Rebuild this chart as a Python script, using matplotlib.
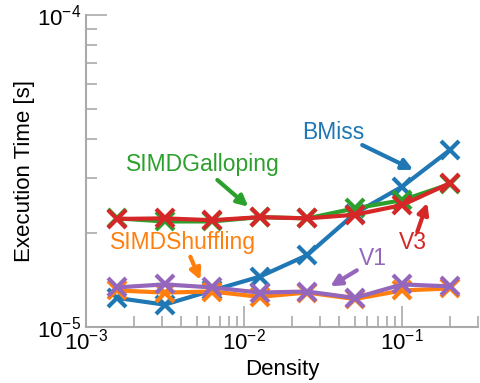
import matplotlib
matplotlib.use("Agg")
import matplotlib.pyplot as plt

density = [0.0015625, 0.003125, 0.00625, 0.0125, 0.025, 0.05, 0.1, 0.2]

bmiss = [1.24e-5, 1.18e-5, 1.31e-5, 1.45e-5, 1.70e-5, 2.31e-5, 2.82e-5, 3.69e-5]
simd_galloping = [2.23e-5, 2.18e-5, 2.18e-5, 2.25e-5, 2.23e-5, 2.40e-5, 2.55e-5, 2.87e-5]
v3 = [2.22e-5, 2.23e-5, 2.20e-5, 2.25e-5, 2.23e-5, 2.29e-5, 2.46e-5, 2.89e-5]
simd_shuffling = [1.31e-5, 1.29e-5, 1.30e-5, 1.25e-5, 1.29e-5, 1.23e-5, 1.31e-5, 1.33e-5]
v1 = [1.34e-5, 1.37e-5, 1.34e-5, 1.29e-5, 1.30e-5, 1.24e-5, 1.37e-5, 1.35e-5]

plt.rcParams["font.family"] = ["Liberation Sans", "DejaVu Sans"]
plt.rcParams["mathtext.fontset"] = "cm"

fig = plt.figure(figsize=(4.8, 3.83), dpi=100)
ax = fig.add_axes([0.18, 0.146, 0.815, 0.815])

series = [
    ("BMiss", bmiss, "#1f77b4"),
    ("SIMDGalloping", simd_galloping, "#2ca02c"),
    ("V3", v3, "#d62728"),
    ("SIMDShuffling", simd_shuffling, "#ff7f0e"),
    ("V1", v1, "#9467bd"),
]
for name, vals, col in series:
    ax.plot(density, vals, color=col, lw=3, marker="x", ms=13, mew=3)

ax.set_xscale("log")
ax.set_yscale("log")
ax.set_xlim(1e-3, 0.3)
ax.set_ylim(1e-5, 1e-4)

for side in ["top", "right"]:
    ax.spines[side].set_visible(False)
for side in ["left", "bottom"]:
    ax.spines[side].set_color("#aaaaaa")
    ax.spines[side].set_linewidth(1.5)
ax.tick_params(which="both", direction="in", colors="#aaaaaa", labelcolor="black", labelsize=16, width=1.2)
ax.tick_params(which="major", length=15)
ax.tick_params(which="minor", length=8)
ax.tick_params(axis="x", which="both", pad=1)

ax.set_xlabel("Density", fontsize=16, labelpad=3)
ax.set_ylabel("Execution Time [s]", fontsize=16, labelpad=2)

# label text, text position, arrow tail, arrow head
labels = [
    ("BMiss", "#1f77b4", (0.0366, 4.19e-5), (0.0558, 3.83e-5), (0.1175, 3.19e-5)),
    ("SIMDGalloping", "#2ca02c", (0.0055, 3.31e-5), (0.00675, 2.96e-5), (0.0106, 2.43e-5)),
    ("SIMDShuffling", "#ff7f0e", (0.00411, 1.86e-5), (0.00455, 1.68e-5), (0.00527, 1.415e-5)),
    ("V1", "#9467bd", (0.0655, 1.66e-5), (0.0516, 1.52e-5), (0.035, 1.35e-5)),
    ("V3", "#d62728", (0.1175, 1.87e-5), (0.1245, 2.02e-5), (0.144, 2.50e-5)),
]
for text, col, pos, tail, head in labels:
    ax.text(pos[0], pos[1], text, color=col, fontsize=16.5, ha="center", va="center")
    ax.annotate("", xy=head, xytext=tail,
                arrowprops=dict(arrowstyle="-|>", lw=3, color=col, mutation_scale=16,
                                shrinkA=0, shrinkB=0))

fig.savefig("out.png", dpi=100)
